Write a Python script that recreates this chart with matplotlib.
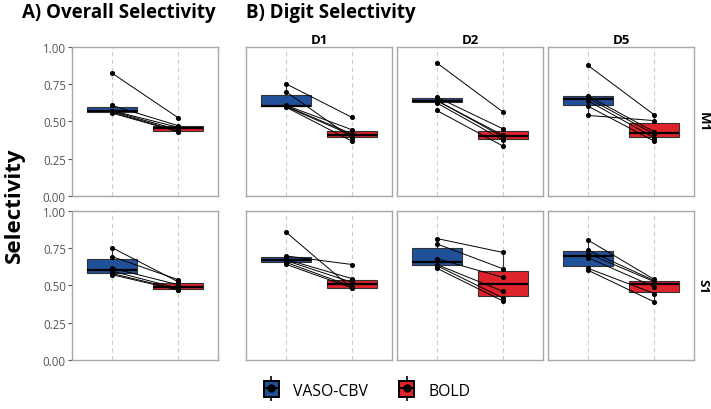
import matplotlib
matplotlib.use("Agg")
import matplotlib.pyplot as plt
from matplotlib.patches import Patch
from matplotlib.lines import Line2D

plt.rcParams['font.family'] = ['Open Sans', 'DejaVu Sans']

# categorias
conditions = ['VASO-CBV', 'BOLD']
regions = ['M1', 'S1']
digits = ['D1', 'D2', 'D5']

# valores por sujeito (mesma ordem em VASO e BOLD -> linhas pareadas)
vaso_all_m1 = [0.825, 0.607, 0.572, 0.568, 0.562, 0.556]
bold_all_m1 = [0.524, 0.471, 0.460, 0.444, 0.434, 0.430]
vaso_all_s1 = [0.754, 0.694, 0.616, 0.596, 0.580, 0.572]
bold_all_s1 = [0.524, 0.538, 0.504, 0.480, 0.472, 0.468]

vaso_d1_m1 = [0.753, 0.700, 0.608, 0.603, 0.600, 0.596]
bold_d1_m1 = [0.526, 0.388, 0.443, 0.415, 0.405, 0.366]
vaso_d2_m1 = [0.893, 0.663, 0.642, 0.638, 0.624, 0.573]
bold_d2_m1 = [0.562, 0.449, 0.394, 0.406, 0.374, 0.333]
vaso_d5_m1 = [0.877, 0.672, 0.657, 0.639, 0.603, 0.540]
bold_d5_m1 = [0.544, 0.430, 0.414, 0.390, 0.367, 0.505]

vaso_d1_s1 = [0.859, 0.698, 0.675, 0.667, 0.655, 0.642]
bold_d1_s1 = [0.479, 0.640, 0.545, 0.520, 0.492, 0.482]
vaso_d2_s1 = [0.815, 0.779, 0.680, 0.640, 0.633, 0.615]
bold_d2_s1 = [0.721, 0.611, 0.553, 0.459, 0.414, 0.394]
vaso_d5_s1 = [0.805, 0.736, 0.714, 0.687, 0.615, 0.602]
bold_d5_s1 = [0.540, 0.532, 0.525, 0.490, 0.445, 0.389]

yticks = [0.00, 0.25, 0.50, 0.75, 1.00]

tabela = {
    ('all', 'M1'): (vaso_all_m1, bold_all_m1),
    ('all', 'S1'): (vaso_all_s1, bold_all_s1),
    ('D1', 'M1'): (vaso_d1_m1, bold_d1_m1),
    ('D2', 'M1'): (vaso_d2_m1, bold_d2_m1),
    ('D5', 'M1'): (vaso_d5_m1, bold_d5_m1),
    ('D1', 'S1'): (vaso_d1_s1, bold_d1_s1),
    ('D2', 'S1'): (vaso_d2_s1, bold_d2_s1),
    ('D5', 'S1'): (vaso_d5_s1, bold_d5_s1),
}

cores = ['#21509B', '#E0222A']
borda = '#A8A8A8'

fig = plt.figure(figsize=(7.11, 4.10), dpi=100)

W = 146 / 711
H_top = (196.7 - 48) / 410
row_bottoms = {'M1': 1 - 196.7 / 410, 'S1': 1 - 360.7 / 410}
col_lefts = {'all': 72 / 711, 'D1': 246 / 711, 'D2': 397 / 711, 'D5': 548 / 711}


def desenhar_painel(ax, vaso, bold, mostrar_y):
    ax.set_xlim(0.4, 2.6)
    ax.set_ylim(0, 1)
    for x in [1, 2]:
        ax.axvline(x, color='#CCCCCC', lw=0.8, ls=(0, (4, 3)), zorder=0)
    bp = ax.boxplot([vaso, bold], positions=[1, 2], widths=0.75,
                    patch_artist=True, showfliers=False, showcaps=False,
                    whis=1.5,
                    boxprops=dict(edgecolor='#333333', linewidth=0.8),
                    whiskerprops=dict(color='#333333', linewidth=0.8),
                    medianprops=dict(color='black', linewidth=1.6))
    for patch, cor in zip(bp['boxes'], cores):
        patch.set_facecolor(cor)
    for v, b in zip(vaso, bold):
        ax.plot([1, 2], [v, b], color='black', lw=0.7, zorder=3)
    ax.scatter([1] * len(vaso), vaso, s=7, color='black', zorder=4)
    ax.scatter([2] * len(bold), bold, s=7, color='black', zorder=4)

    ax.set_xticks([])
    ax.set_yticks(yticks)
    if mostrar_y:
        ax.set_yticklabels([f'{t:.2f}' for t in yticks])
        ax.tick_params(axis='y', length=3, width=0.8, color='#555555',
                       labelsize=8.3, labelcolor='#555555', pad=1.5)
    else:
        ax.set_yticklabels([])
        ax.tick_params(axis='y', length=0)
    for s in ax.spines.values():
        s.set_color(borda)
        s.set_linewidth(1.0)


for reg in regions:
    for col in ['all'] + digits:
        ax = fig.add_axes([col_lefts[col], row_bottoms[reg], W, H_top])
        vaso, bold = tabela[(col, reg)]
        desenhar_painel(ax, vaso, bold, col == 'all')
        if reg == 'M1' and col != 'all':
            ax.set_title(col, fontsize=9.5, fontweight='bold', pad=3)
    fig.text(703 / 711, row_bottoms[reg] + H_top / 2, reg, rotation=-90,
             ha='center', va='center', fontsize=9.5, fontweight='bold')

fig.text(22 / 711, 1 - 13 / 410, 'A) Overall Selectivity', fontsize=13.5,
         fontweight='bold', ha='left', va='center')
fig.text(246 / 711, 1 - 13 / 410, 'B) Digit Selectivity', fontsize=13.5,
         fontweight='bold', ha='left', va='center')
fig.text(14 / 711, 1 - 205 / 410, 'Selectivity', fontsize=16,
         fontweight='bold', rotation=90, ha='center', va='center')

# legenda
handles = []
for cor in cores:
    bigode = Line2D([], [], color='black', lw=0, marker='|', markersize=18,
                    markeredgewidth=1.2)
    caixa = Patch(facecolor=cor, edgecolor='black', linewidth=1.4)
    mediana = Line2D([], [], color='black', lw=1.4, marker='o', markersize=5)
    handles.append((bigode, caixa, mediana))
fig.legend(handles, conditions, loc='center', bbox_to_anchor=(367 / 711, 1 - 391 / 410),
           ncol=2, frameon=False, fontsize=11.3, handlelength=0.95, handleheight=1.2,
           columnspacing=2.0, handletextpad=0.9)

fig.savefig('out.png', dpi=100)
